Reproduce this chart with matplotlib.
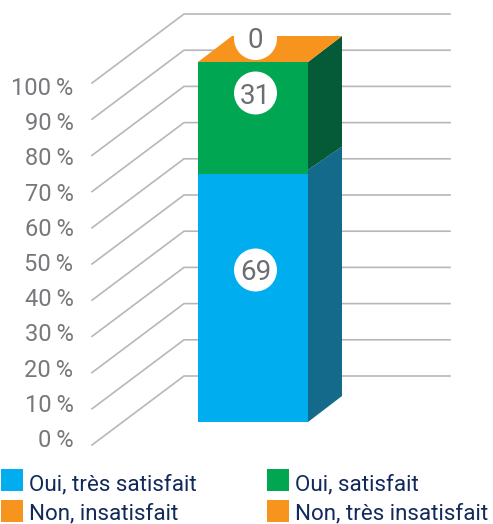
import matplotlib
matplotlib.use("Agg")
import matplotlib.pyplot as plt
from matplotlib.patches import Polygon, Rectangle, Circle

categories = ["Oui, très satisfait", "Oui, satisfait", "Non, insatisfait", "Non, très insatisfait"]
values = [69, 31, 0, 0]
tick_values = [0, 10, 20, 30, 40, 50, 60, 70, 80, 90, 100]
tick_labels = [f"{v}\u2009%" for v in tick_values]

BLUE, GREEN, ORANGE = "#00AEEF", "#00A651", "#F7941D"
DBLUE, DGREEN = "#136A8A", "#055A38"
GRID, TICK, NAVY = "#B7B7BA", "#77787B", "#12295B"

plt.rcParams["font.family"] = ["Roboto", "DejaVu Sans"]
fig = plt.figure(figsize=(4.93, 5.24), dpi=100)
ax = fig.add_axes([0, 0, 1, 1])
ax.set_xlim(0, 493)
ax.set_ylim(524, 0)
ax.axis("off")

# projection of the chart scale to the picture
x0, x1, dx, dy = 198, 308, 34, 26
def ybar(v):
    return 422 - 3.6 * v
def ygrid_front(v):
    return 445 - 3.62 * v
def ygrid_back(v):
    return 376 - 3.62 * v

for v, lab in zip(tick_values, tick_labels):
    ax.plot([92, 184, 450], [ygrid_front(v), ygrid_back(v), ygrid_back(v)],
            color=GRID, lw=1.2, zorder=1, solid_joinstyle="miter")
    ax.text(73.5, 440.5 - 3.52 * v, lab, ha="right", va="center",
            fontsize=17, color=TICK, zorder=2)

v1 = values[0]
v2 = values[0] + values[1]
shift_front, shift_back = 3.7, 1.0
for a, b, c in [(0, v1, BLUE), (v1, v2, GREEN)]:
    ax.add_patch(Polygon([(x0, ybar(a)), (x1, ybar(a)), (x1, ybar(b)), (x0, ybar(b))],
                         fc=c, ec="none", zorder=3))
ax.add_patch(Polygon([(x1, ybar(0)), (x1 + dx, ybar(0) - dy),
                      (x1 + dx, ybar(v1) - dy - shift_back), (x1, ybar(v1) - shift_front)],
                     fc=DBLUE, ec="none", zorder=3))
ax.add_patch(Polygon([(x1, ybar(v1) - shift_front), (x1 + dx, ybar(v1) - dy - shift_back),
                      (x1 + dx, ybar(v2) - dy), (x1, ybar(v2))],
                     fc=DGREEN, ec="none", zorder=3))
ax.add_patch(Polygon([(x0, ybar(v2)), (x1, ybar(v2)), (x1 + dx, ybar(v2) - dy), (x0 + dx, ybar(v2) - dy)],
                     fc=ORANGE, ec="none", zorder=3))

# value badges
cx = 255.5
for yc, val in [(270, values[0]), (93, values[1]), (38.5, values[2])]:
    ax.add_patch(Circle((cx, yc), 21.5, fc="white", ec="none", zorder=4))
    ax.text(cx, yc - (0 if val else 1), str(val), ha="center", va="center_baseline",
            fontsize=20, color="#6D6E71", zorder=5)

# legend
colors = [BLUE, GREEN, ORANGE, ORANGE]
pos = [(1, 469, 490), (267, 469, 490), (1, 500, 519.5), (267, 500, 519.5)]
for (px, py, base), c, name in zip(pos, colors, categories):
    ax.add_patch(Rectangle((px, py), 22, 22, fc=c, ec="none", zorder=3))
    ax.text(px + 28, base, name, ha="left", va="baseline",
            fontsize=16.1, color=NAVY, zorder=3)

fig.savefig("out.png", dpi=100)
